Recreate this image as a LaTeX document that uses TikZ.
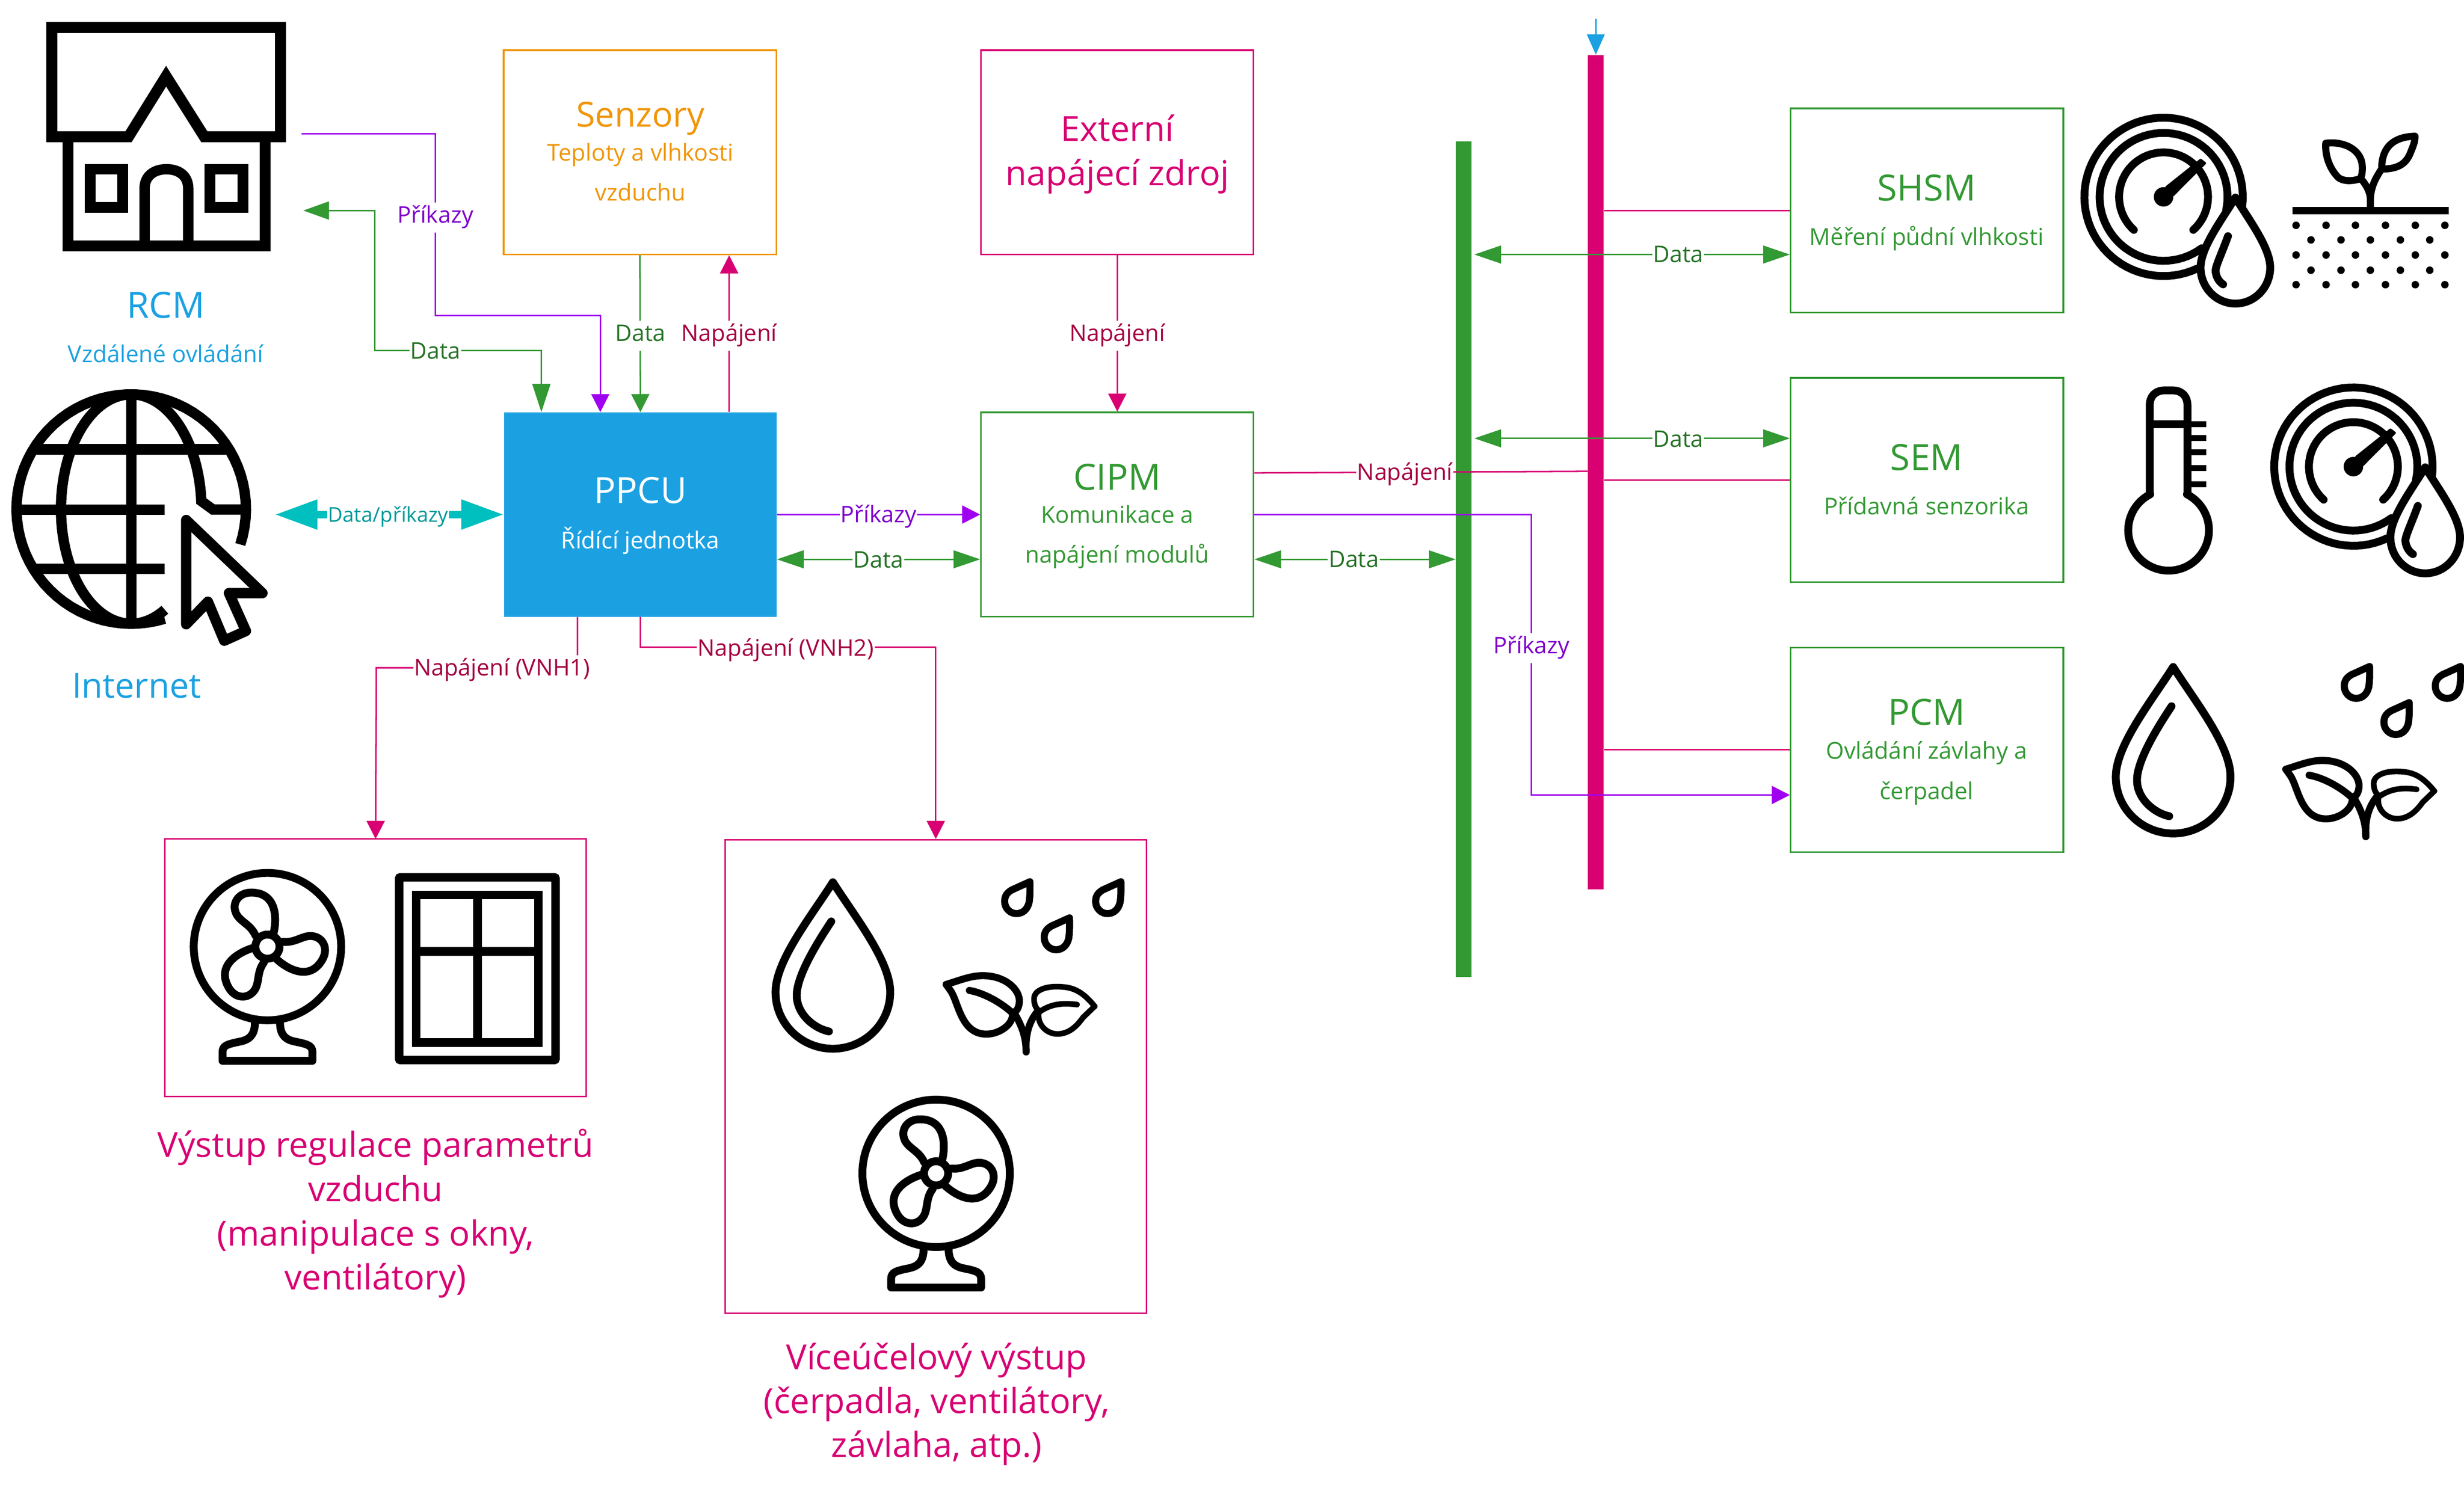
\documentclass[tikz,border=0pt]{standalone}
\usepackage{fontspec}
\setmainfont{Open Sans}
\usetikzlibrary{arrows.meta}
\definecolor{cblue}{HTML}{1BA1E2}
\definecolor{corange}{HTML}{F0960A}
\definecolor{cmag}{HTML}{D80073}
\definecolor{cgreen}{HTML}{339933}
\definecolor{cpurple}{HTML}{A000F0}
\definecolor{cteal}{HTML}{00BFBF}
\definecolor{lgreen}{HTML}{267326}
\definecolor{lmag}{HTML}{A50040}
\definecolor{lpurple}{HTML}{7F00CC}
\definecolor{lteal}{HTML}{009999}
\tikzset{
 x=1pt,y=-1pt,
 boxn/.style={draw,line width=1pt,fill=white,minimum width=173.5pt,minimum height=130pt,inner sep=0pt},
 barn/.style={fill,draw=none,minimum width=10pt,inner sep=0pt},
 big/.style={anchor=base,inner sep=0pt,font=\fontsize{22}{24}\selectfont,align=center},
 bigcaps/.style={big,font=\fontsize{23}{24}\selectfont},
 small/.style={anchor=base,inner sep=0pt,font=\fontsize{14.8}{16}\selectfont,align=center},
 lab/.style={anchor=base,fill=white,inner xsep=.5pt,inner ysep=2pt,text height=11pt,text depth=4pt,font=\fontsize{14.6}{16}\selectfont},
 conn/.style={line width=.95pt},
 gdata/.style={conn,draw=cgreen},
 mpow/.style={conn,draw=cmag},
 pcmd/.style={conn,draw=cpurple},
 tipv/.style={-{Triangle[length=11.5pt,width=11.5pt]}},
 tipgg/.style={{Triangle[length=17pt,width=11.3pt]}-{Triangle[length=17pt,width=11.3pt]}},
 iconline/.style={draw=black,line width=5pt,line join=round,line cap=round},
 thinicon/.style={iconline,line width=4.5pt},
 hairicon/.style={iconline,line width=3.6pt},
}
\newcommand{\ringarc}[6][iconline]{\draw[#1] plot[domain=#5:#6,samples=70] ({#2+#4*cos(\x)},{#3+#4*sin(\x)});}
\newcommand{\blade}{\draw[iconline] (4,-9) .. controls (6,-18) and (6,-34.4) .. (-10.3,-34.4) .. controls (-18,-34.4) and (-22,-28.5) .. (-20.6,-23) .. controls (-19,-16) and (-11,-15) .. (-7.6,-7);}
\newcommand{\IconFan}[2]{\begin{scope}[shift={(#1,#2)}]
 \draw[iconline] (0,0) circle[radius=46.9];
 \draw[iconline] (0,0) circle[radius=7.7];
 \blade
 \begin{scope}[rotate=-120]\blade\end{scope}
 \begin{scope}[rotate=-240]\blade\end{scope}
 \draw[iconline] (-8,48.5) .. controls (-8,60) and (-16,60) .. (-21,61.2) .. controls (-25,62.2) and (-28.6,63) .. (-28.6,67) -- (-28.6,72.7) -- (28.6,72.7) -- (28.6,67) .. controls (28.6,63) and (25,62.2) .. (21,61.2) .. controls (16,60) and (8,60) .. (8,48.5);
\end{scope}}
\newcommand{\IconDrop}[2]{\begin{scope}[shift={(#1,#2)}]
 \draw[iconline,miter limit=10] (0,0) .. controls (-14,22) and (-36.5,50) .. (-36.5,70) .. controls (-36.5,90) and (-20,106) .. (0,106) .. controls (20,106) and (36.5,90) .. (36.5,70) .. controls (36.5,50) and (14,22) .. cycle;
 \draw[iconline] (-1,25) .. controls (-11,40) and (-23,60) .. (-23,72) .. controls (-23,84) and (-12,93) .. (-2.5,95);
\end{scope}}
\newcommand{\tinydrop}[2]{\begin{scope}[shift={(#1,#2)}]
 \draw[thinicon] (0,0) .. controls (0,5) and (.2,8) .. (-.5,13) .. controls (-1.5,17.5) and (-4.5,20.3) .. (-8.6,20.3) .. controls (-12.5,20.3) and (-16.1,17) .. (-16.1,12.5) .. controls (-16.1,8.5) and (-14,6.7) .. (-11.5,5.2) -- (0,0) -- cycle;
\end{scope}}
\newcommand{\IconPlant}[2]{\begin{scope}[shift={(#1,#2)}]
 \tinydrop{655.4}{561.2}\tinydrop{680.6}{584.2}\tinydrop{713.3}{561.2}
 \draw[thinicon] (602.1,626.6) .. controls (612,623.5) and (618,621) .. (625.4,621) .. controls (640,621) and (649,630) .. (648.7,637.5) .. controls (648.5,641) and (647,644) .. (644.9,644.5);
 \draw[thinicon] (644.3,645) .. controls (645,652) and (636,658.2) .. (627.7,658.2) .. controls (611,658.2) and (610,637) .. (604.5,630) -- (602.1,626.6);
 \draw[thinicon] (616.9,630.4) .. controls (626,632) and (637,638) .. (644.5,645);
 \draw[thinicon] (644.9,644) .. controls (650,652) and (653,660) .. (653,669.5);
 \draw[thinicon] (653,669.5) .. controls (652.5,660) and (654,651) .. (660.5,643.5);
 \draw[hairicon] (696.6,640.5) .. controls (688,630) and (682,628) .. (672.1,628) .. controls (664,628) and (658,631) .. (658,635.5) .. controls (658,639) and (659,641.5) .. (660.8,643);
 \draw[hairicon] (661,645) .. controls (660,652) and (666,658.1) .. (672.9,658.1) .. controls (681,658.1) and (686,652) .. (689.2,647.6) -- (696.6,640.5);
 \draw[hairicon] (685.3,639.4) .. controls (675,638) and (668,639.5) .. (661.5,644);
\end{scope}}
\newcommand{\IconGauge}[2]{\begin{scope}[shift={(#1,#2)}]
 \ringarc{0}{0}{50.4}{65}{367}
 \ringarc{0}{0}{40.7}{53.6}{372}
 \ringarc{0}{0}{28.3}{132}{408}
 \fill[rounded corners=.8pt] (.8,-6.3) -- (23.6,-24.5) -- (27.4,-21.5) -- (6,0) -- cycle;
 \fill (0,0) circle[radius=6.2];
 \begin{scope}[shift={(45.7,.4)},xscale=.607,yscale=.637]
  \draw[line width=5pt,draw=black,fill=white,line join=round] (0,0) .. controls (-14,22) and (-36.5,50) .. (-36.5,70) .. controls (-36.5,90) and (-20,106) .. (0,106) .. controls (20,106) and (36.5,90) .. (36.5,70) .. controls (36.5,50) and (14,22) .. cycle;
 \end{scope}
 \draw[iconline] (41,25) .. controls (37,36) and (33.1,44) .. (33.1,47) .. controls (33.1,50) and (35,54) .. (37.9,55.7);
\end{scope}}
\begin{document}
\begin{tikzpicture}
\useasboundingbox (0,0) rectangle (1568,945.1);
\fill[white] (0,0) rectangle (1568,945.1);

% ---------- boxes
\node[boxn,draw=corange] (senz) at (407.25,97) {};
\node[barn,fill=cblue,minimum width=173.5pt,minimum height=130pt] (ppcu) at (407.5,327.5) {};
\node[boxn,draw=cmag] (ext) at (711,97) {};
\node[boxn,draw=cgreen] (cipm) at (711,327.5) {};
\node[boxn,draw=cgreen] (shsm) at (1226.25,134) {};
\node[boxn,draw=cgreen] (sem) at (1226.25,305.5) {};
\node[boxn,draw=cgreen] (pcm) at (1226.25,477.25) {};
\node[boxn,draw=cmag,minimum width=268pt,minimum height=164pt] (outa) at (239,616) {};
\node[boxn,draw=cmag,minimum width=268pt,minimum height=301.5pt] (outb) at (595.5,685.25) {};
\node[barn,fill=cgreen,minimum height=532pt] (gbar) at (931.5,356) {};
\node[barn,fill=cmag,minimum height=531pt] (mbar) at (1015.5,300.5) {};
\coordinate (rcmcmd) at (192,85);
\coordinate (rcmdata) at (193,134);
\coordinate (inet) at (175,327.5);
\coordinate (busin) at (1015.5,12);

% ---------- connectors
\draw[pcmd,tipv] (rcmcmd) -- (277,85) -- (277,201) -- (382,201) -- ([xshift=-25.5pt]ppcu.north);
\draw[gdata,{Triangle[length=16.4pt,width=11.5pt]}-{Triangle[length=18pt,width=11.5pt]}] (rcmdata) -- (238.5,134) -- (238.5,223) -- (344.5,223) -- ([xshift=-63pt]ppcu.north);
\draw[gdata,tipv] (senz.south) -- (ppcu.north);
\draw[mpow,tipv] ([xshift=56.5pt]ppcu.north) -- ([xshift=56.75pt]senz.south);
\draw[mpow,tipv] (ext.south) -- (cipm.north);
\draw[pcmd,tipv] (ppcu.east) -- (cipm.west);
\draw[gdata,tipgg] ([yshift=-28.5pt]ppcu.east) -- ([yshift=-28.5pt]cipm.west);
\draw[mpow] ([yshift=26.5pt]cipm.east) -- ([yshift=27.5pt]mbar.south west |- cipm.east);
\draw[pcmd,tipv] (cipm.east) -- (974.5,327.5) -- (974.5,506) -- ([yshift=-28.75pt]pcm.west);
\draw[gdata,tipgg] ([yshift=-28.5pt]cipm.east) -- ([yshift=-28.5pt]gbar.west |- cipm.east);
\draw[gdata,tipgg] ([xshift=1.5pt,yshift=-28pt]gbar.east |- shsm.west) -- ([yshift=-28pt]shsm.west);
\draw[gdata,tipgg] ([xshift=1.5pt,yshift=26.5pt]gbar.east |- sem.west) -- ([yshift=26.5pt]sem.west);
\draw[mpow] (mbar.east |- shsm.west) -- (shsm.west);
\draw[mpow] (mbar.east |- sem.west) -- (sem.west);
\draw[mpow] (mbar.east |- pcm.west) -- (pcm.west);
\draw[conn,draw=cblue,-{Triangle[length=13pt,width=11.3pt]}] (busin) -- (mbar.north);
\draw[line width=4.6pt,draw=cteal,{Triangle[length=27pt,width=18pt]}-{Triangle[length=27pt,width=18pt]}] (inet) -- (ppcu.west);
\draw[mpow,tipv] ([xshift=-40pt]ppcu.south) -- (367.5,425) -- (239.5,425) -- (outa.north |- 0,534);
\draw[mpow,tipv] (ppcu.south) -- (407.5,412) -- (595.5,412) -- (outb.north);

% ---------- labels on connectors
\node[lab,text=lpurple] (l1) at (277,142) {Příkazy};
\node[lab,text=lgreen] (l2) at (277,228.5) {Data};
\node[lab,text=lgreen] (l3) at (407.5,217.2) {Data};
\node[lab,text=lmag] (l4) at (464,217.2) {Napájení};
\node[lab,text=lmag] (l5) at (711,217.2) {Napájení};
\node[lab,text=lpurple] (l6) at (559,332.5) {Příkazy};
\node[lab,text=lgreen] (l7) at (559,361.5) {Data};
\node[lab,text=lmag] (l8) at (894,305.5) {Napájení};
\node[lab,text=lpurple] (l9) at (974.5,416) {Příkazy};
\node[lab,text=lgreen] (l10) at (861.5,361) {Data};
\node[lab,text=lgreen] (l11) at (1068,167) {Data};
\node[lab,text=lgreen] (l12) at (1068,284.5) {Data};
\node[lab,text=lteal,font=\fontsize{13}{16}\selectfont] (l13) at (247,332.3) {Data/příkazy};
\node[lab,text=lmag] (l14) at (319.5,430) {Napájení (VNH1)};
\node[lab,text=lmag] (l15) at (500,417.5) {Napájení (VNH2)};

% ---------- texts
\node[bigcaps,text=cblue] (t1) at (105.5,202.3) {RCM};
\node[small,text=cblue] (t2) at (105.5,230.5) {Vzdálené ovládání};
\node[big,text=cblue] (t3) at (87,444.3) {Internet};
\node[big,text=corange] (t4) at (407.5,80.8) {Senzory};
\node[small,text=corange] (t5) at (407.5,102.4) {Teploty a vlhkosti};
\node[small,text=corange] (t6) at (407.5,127.8) {vzduchu};
\node[bigcaps,text=white] (t7) at (407.5,320.4) {PPCU};
\node[small,text=white] (t8) at (407.5,349.3) {Řídící jednotka};
\node[big,text=cmag] (t9) at (711,90) {Externí};
\node[big,text=cmag] (t10) at (711,118) {napájecí zdroj};
\node[bigcaps,text=cgreen] (t11) at (711,312) {CIPM};
\node[small,text=cgreen] (t12) at (711,333) {Komunikace a};
\node[small,text=cgreen] (t13) at (711,358.3) {napájení modulů};
\node[bigcaps,text=cgreen] (t14) at (1226,127.7) {SHSM};
\node[small,text=cgreen] (t15) at (1226,155.9) {Měření půdní vlhkosti};
\node[bigcaps,text=cgreen] (t16) at (1226,299.3) {SEM};
\node[small,text=cgreen] (t17) at (1226,327.5) {Přídavná senzorika};
\node[bigcaps,text=cgreen] (t18) at (1226,461.5) {PCM};
\node[small,text=cgreen] (t19) at (1226,483) {Ovládání závlahy a};
\node[small,text=cgreen] (t20) at (1226,508.7) {čerpadel};
\node[big,text=cmag] (t21) at (239,736.6) {Výstup regulace parametrů};
\node[big,text=cmag] (t22) at (239,764.7) {vzduchu};
\node[big,text=cmag] (t23) at (239,792.8) {(manipulace s okny,};
\node[big,text=cmag] (t24) at (239,820.9) {ventilátory)};
\node[big,text=cmag] (t25) at (596,871.5) {Víceúčelový výstup};
\node[big,text=cmag] (t26) at (596,899.5) {(čerpadla, ventilátory,};
\node[big,text=cmag] (t27) at (596,927.5) {závlaha, atp.)};

% ---------- house
\draw[line width=7pt,miter limit=10] (33,17.5) -- (178.5,17.5) -- (178.5,87) -- (130,87) -- (105.7,48.5) -- (81.8,87) -- (33,87) -- cycle;
\draw[line width=6.9pt] (43.2,87) -- (43.2,156.4) -- (168.6,156.4) -- (168.6,87);
\draw[line width=6.6pt] (92,156.4) -- (92,120) .. controls (92,112) and (98,107.7) .. (105.9,107.7) .. controls (114,107.7) and (119.8,112) .. (119.8,120) -- (119.8,156.4);
\draw[line width=6.8pt] (57.3,107.7) rectangle (78,132);
\draw[line width=6.8pt] (133.6,107.7) rectangle (154.5,132);

% ---------- globe + cursor
\ringarc[line width=6.6pt]{83.5}{324}{73}{73}{378}
\draw[line width=6.6pt] (83.5,251) -- (83.5,397);
\draw[line width=6.6pt] (21,286) -- (146,286);
\draw[line width=6.6pt] (10.5,324.3) -- (104.8,324.3);
\draw[line width=6.6pt] (21,362) -- (104.8,362);
\draw[line width=6.6pt] plot[domain=90:270,samples=70] ({83.5+44.7*cos(\x)},{324+73*sin(\x)});
\draw[line width=6.6pt] plot[domain=61.4:90,samples=20] ({83.5+44.7*cos(\x)},{324+73*sin(\x)});
\draw[line width=6.6pt,line join=miter] plot[domain=270:356,samples=50] ({83.5+44.7*cos(\x)},{324+73*sin(\x)}) -- (135.5,324.3) -- (155,324.3);
\draw[line width=6.6pt,line join=round] (118.5,331) -- (167,377.5) -- (145.7,377.5) -- (156.5,401.6) -- (142.7,407.8) -- (132.3,383) -- (118.5,397.3) -- cycle;

% ---------- output icons
\IconFan{170.2}{602.5}
\draw[line width=5.4pt,rounded corners=.8pt] (254,558.4) rectangle (353.5,674.7);
\draw[line width=5.5pt] (264.8,569.6) rectangle (342.6,663.5);
\draw[line width=5.5pt] (303.8,569.6) -- (303.8,663.5);
\draw[line width=5.5pt] (264.8,605.5) -- (342.6,605.5);
\IconDrop{530}{561.5}
\IconPlant{0}{0}
\IconFan{595.7}{746.8}

% ---------- module icons
\IconGauge{1376.8}{125.3}
\draw[line width=4.7pt] (1458.9,134) -- (1558.4,134);
\draw[thinicon] (1480,91.2) .. controls (1490,89.8) and (1502,94) .. (1503.2,105) .. controls (1503.5,109) and (1503,112) .. (1502,113.7) .. controls (1497,115.5) and (1491,115.5) .. (1488,113) .. controls (1483,108) and (1479.5,100) .. cycle;
\draw[thinicon] (1536.8,86.7) .. controls (1525,87) and (1515.5,92) .. (1515.6,107.6) .. controls (1525,107.6) and (1531,105) .. (1534,97) .. controls (1536,92) and (1536.8,90) .. cycle;
\draw[thinicon,line cap=butt] (1508.4,132) -- (1508.4,126) .. controls (1508,122) and (1506,118) .. (1503,114.5);
\draw[thinicon,line cap=butt] (1508.4,132) -- (1508.4,126) .. controls (1509,118) and (1512,113) .. (1515.5,107.6);
\foreach \yy in {143.4,162.3,181.2} \foreach \xx in {1461.1,1480.2,1498.9,1518,1537,1555.8} \fill (\xx,\yy) circle[radius=2.4];
\foreach \yy in {152.7,172} \foreach \xx in {1470.6,1489.7,1508.4,1527.5,1546.2} \fill (\xx,\yy) circle[radius=2.4];

\draw[iconline] (1368,314) -- (1368,258) .. controls (1368,251) and (1373,248.5) .. (1377,248.5) -- (1383,248.5) .. controls (1387,248.5) and (1392,251) .. (1392,258) -- (1392,314);
\ringarc{1380}{337.5}{25.7}{-63}{243}
\draw[iconline,line cap=butt] (1368,270) -- (1392,270);
\foreach \yy in {270,278.8,288,298,308.2} \draw[line width=3.8pt] (1392,\yy) -- (1404,\yy);
\IconGauge{1497.6}{297}

\IconDrop{1382.9}{424.5}
\IconPlant{852.5}{-137}
\end{tikzpicture}
\end{document}
